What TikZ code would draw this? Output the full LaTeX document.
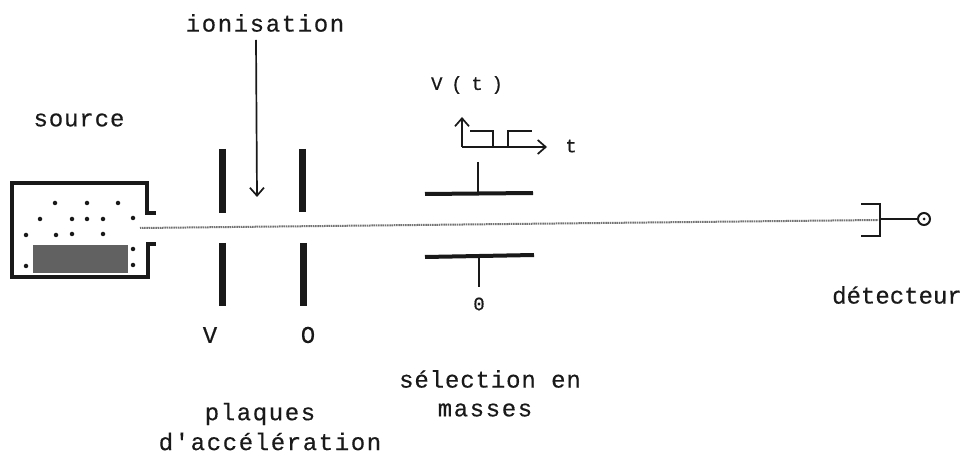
\documentclass[tikz,border=0pt]{standalone}
\usepackage{fontspec}
\setmainfont{Liberation Mono}
\newfontfamily\lblA[LetterSpace=6.7,FakeBold=0.4]{Liberation Mono}
\newfontfamily\lblB[LetterSpace=3.7,FakeBold=0.4]{Liberation Mono}
\newfontfamily\lblC[FakeBold=0.4]{Liberation Mono}
\newfontfamily\lblD[LetterSpace=-14,FakeBold=0.6]{Liberation Mono}
\usetikzlibrary{arrows.meta}
\tikzset{
  lbl/.style={inner sep=0pt,text=black!90},
  wide/.style={lbl,font=\lblA\fontsize{24}{28}\selectfont},
  mid/.style={lbl,font=\lblB\fontsize{24}{28}\selectfont},
  tight/.style={lbl,font=\lblC\fontsize{24}{28}\selectfont},
  small/.style={lbl,font=\lblD\fontsize{19}{22}\selectfont},
  wall/.style={line width=4pt,black!90,line join=miter},
  plate/.style={line width=7pt,black!90},
  bar/.style={line width=4pt,black!90},
  thin line/.style={line width=1.7pt,black!90},
  barb/.style={-{Straight Barb[length=8pt,width=14pt]}},
  beam/.style={line width=2pt,black!55,dash pattern=on 1.2pt off 0.6pt},
  part/.style={circle,fill=black!90,inner sep=0pt,minimum size=4.5pt}
}
\begin{document}
\begin{tikzpicture}[x=1pt,y=-1pt]
\useasboundingbox (0,0) rectangle (966,454);
% source
\fill[black!62] (33,245) rectangle (128,273);
\draw[wall] (156,213) -- (147,213) -- (147,183) -- (12,183) -- (12,277) -- (148,277) -- (148,244) -- (156,244);
\foreach \px/\py in {55/203,87/203,118/203,40/219,72/219,87/219,103/219,133/218,26/235,56/235,72/234,103/234,133/249,26/266,133/265}
  \node[part] at (\px,\py) {};
\coordinate (beamstart) at (140,228);
\coordinate (beamend) at (878,220);
\draw[beam] (beamstart) -- (beamend);
% acceleration plates
\draw[plate] (222,149) -- (222,213);
\draw[plate] (222,243) -- (222,306);
\draw[plate] (302,149) -- (302,212);
\draw[plate] (303,243) -- (303,306);
% ionisation
\node[wide] (ion) at (265,23) {ionisation};
\coordinate (ionstart) at (256,40);
\coordinate (ionend) at (257,197);
\draw[thin line,barb] (ionstart) -- (ionend);
% selection plates
\coordinate (stemA) at (478,162);
\coordinate (stemB) at (478,194);
\coordinate (stemC) at (479,256);
\coordinate (stemD) at (479,287);
\draw[bar] (425,194) -- (533,193);
\draw[bar] (425,257) -- (534,255);
\draw[thin line] (stemA) -- (stemB);
\draw[thin line] (stemC) -- (stemD);
\node[small] (zero) at (479,304) {0};
% V(t)
\node[small] (vt) at (467,85) {V ( t )};
\coordinate (orig) at (462,147);
\draw[thin line,barb] (orig) -- (462,117);
\draw[thin line,barb] (orig) -- (547,147);
\draw[thin line] (470,131) -- (493,131) -- (493,147);
\draw[thin line] (508,147) -- (508,131) -- (532,131);
\node[small] (t) at (571,146) {t};
% detector
\coordinate (junction) at (880,219);
\draw[thin line,line width=2pt] (861,204) -- (880,204) -- (880,236) -- (861,236);
\node[circle,draw=black!90,line width=2pt,minimum size=12pt,inner sep=0pt] (det) at (924,219) {};
\node[circle,fill=black!90,minimum size=3pt,inner sep=0pt] at (det.center) {};
\draw[thin line,line width=2pt] (junction) -- (det);
% labels
\node[mid] (src) at (79,120) {source};
\node[tight] (labV) at (210,335) {V};
\node[tight] (labO) at (308,335) {O};
\node[tight] (dt) at (897,295) {détecteur};
\node[mid] (sel) at (490,379) {sélection en};
\node[wide] (mas) at (485,410) {masses};
\node[wide] (pl) at (260,414) {plaques};
\node[wide] (acc) at (270,441.5) {d'accélération};
\end{tikzpicture}
\end{document}
